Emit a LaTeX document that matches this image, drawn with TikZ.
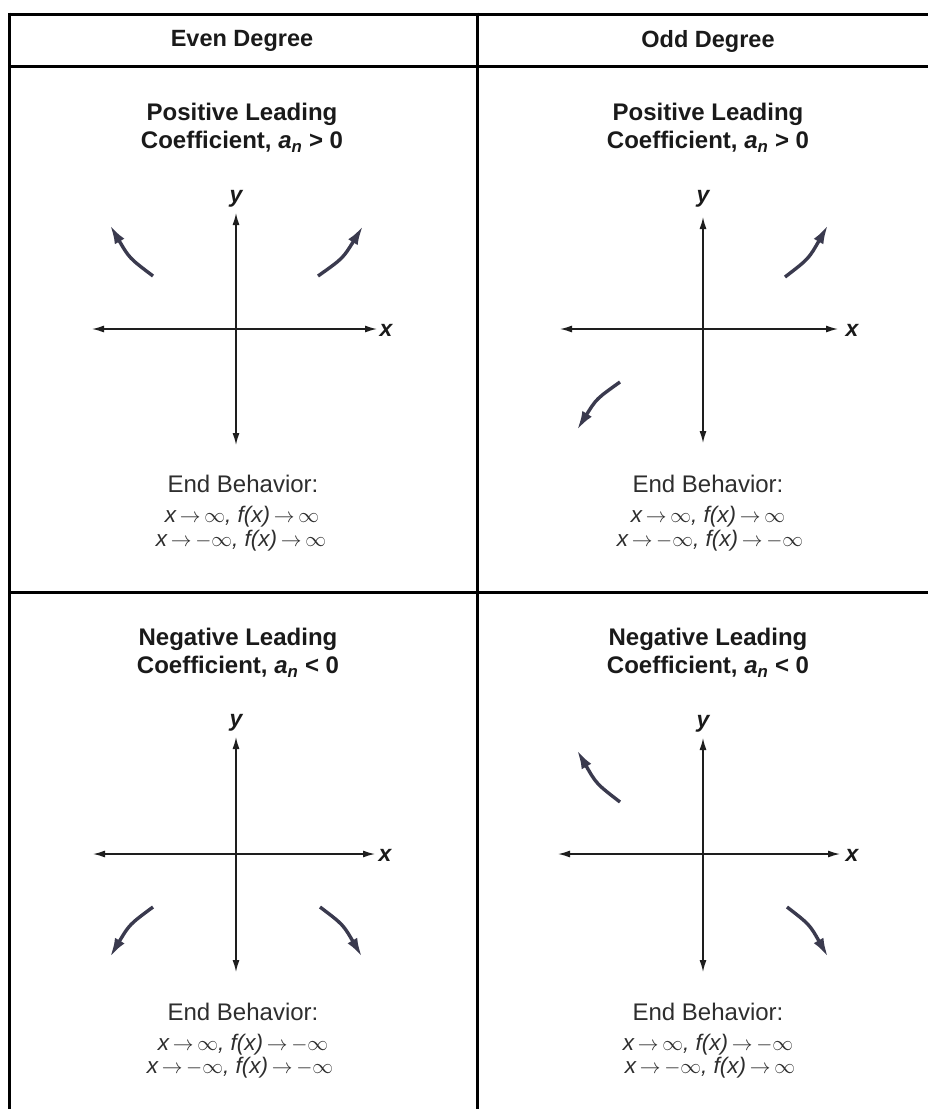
\documentclass[tikz,border=0pt]{standalone}
\usepackage{fontspec}
\setmainfont{Liberation Sans}
\usetikzlibrary{arrows.meta}
\definecolor{inkc}{HTML}{1A1A1A}
\definecolor{textc}{HTML}{2E2E2E}
\definecolor{curvec}{HTML}{3A3A4E}
\definecolor{axisc}{HTML}{1E1E1E}
\newcommand{\ra}{\,$\rightarrow$\,}
\newcommand{\inft}{$\infty$}
\newcommand{\ninft}{$-\infty$}
\tikzset{
  grid/.style={line width=3pt, draw=black},
  axis/.style={line width=1.4pt, draw=axisc, {Latex[length=12pt,width=7pt]}-{Latex[length=12pt,width=7pt]}},
  curve/.style={line width=3.4pt, draw=curvec, -{Latex[length=19pt,width=11pt]}},
  head/.style={font=\bfseries\fontsize{23.5}{26}\selectfont, text=inkc, inner sep=0pt},
  title/.style={font=\bfseries\fontsize{24}{28}\selectfont, text=inkc, inner sep=0pt, align=center},
  ebh/.style={font=\fontsize{24}{27}\selectfont, text=textc, inner sep=0pt},
  ebl/.style={font=\itshape\fontsize{22.5}{24}\selectfont, text=textc, inner sep=0pt},
  axlab/.style={font=\bfseries\itshape\fontsize{23}{24}\selectfont, text=inkc, inner sep=0pt}
}
\begin{document}
\begin{tikzpicture}[x=1pt,y=-1pt]
\useasboundingbox (0,0) rectangle (928,1109);
\fill[white] (0,0) rectangle (928,1109);
% grid
\draw[grid] (8,14) -- (928,14);
\draw[grid] (8,66) -- (928,66);
\draw[grid] (8,592) -- (928,592);
\draw[grid] (9.5,12.5) -- (9.5,1109);
\draw[grid] (477,12.5) -- (477,1109);
% headers
\node[head] (h1) at (242,41) {Even Degree};
\node[head] (h2) at (708,41) {Odd Degree};
% titles
\node[title] (t1a) at (242,114) {Positive Leading};
\node[title] (t1b) at (242,142) {Coefficient, {\itshape a\textsubscript{n}} > 0};
\node[title] (t2a) at (708,114) {Positive Leading};
\node[title] (t2b) at (708,142) {Coefficient, {\itshape a\textsubscript{n}} > 0};
\node[title] (t3a) at (238,639) {Negative Leading};
\node[title] (t3b) at (238,667) {Coefficient, {\itshape a\textsubscript{n}} < 0};
\node[title] (t4a) at (708,639) {Negative Leading};
\node[title] (t4b) at (708,667) {Coefficient, {\itshape a\textsubscript{n}} < 0};
% axes cell 1
\draw[axis] (92,329) -- (377,329);
\draw[axis] (236,213) -- (236,445);
\node[axlab] (x1) at (386,330) {x};
\node[axlab] (y1) at (236,199) {y};
% axes cell 2
\draw[axis] (560,329) -- (838,329);
\draw[axis] (703,217) -- (703,443);
\node[axlab] (x2) at (852,330) {x};
\node[axlab] (y2) at (703,199) {y};
% axes cell 3
\draw[axis] (93,854) -- (375,854);
\draw[axis] (236,737) -- (236,972);
\node[axlab] (x3) at (385,855) {x};
\node[axlab] (y3) at (236,723) {y};
% axes cell 4
\draw[axis] (558,854) -- (840,854);
\draw[axis] (703,738) -- (703,972);
\node[axlab] (x4) at (852,855) {x};
\node[axlab] (y4) at (703,724) {y};
% curves
\draw[curve] (153,276) .. controls (129.3,258.1) .. (110,225);
\draw[curve] (318,276) .. controls (342.8,258.5) .. (363,226);
\draw[curve] (785,277) .. controls (808.7,258.8) .. (828,225);
\draw[curve] (620,382) .. controls (596.4,398.8) .. (577,430);
\draw[curve] (153,907) .. controls (129.4,924.5) .. (110,957);
\draw[curve] (320,907) .. controls (343.1,924.5) .. (362,957);
\draw[curve] (620,802) .. controls (596.4,783.8) .. (577,750);
\draw[curve] (787,907) .. controls (809.6,924.5) .. (828,957);
% end behaviour
\node[ebh] (e1) at (243,484) {End Behavior:};
\node[ebl] (e1a) at (242,517) {x\ra\inft, f(x)\ra\inft};
\node[ebl] (e1b) at (241,541) {x\ra\ninft, f(x)\ra\inft};
\node[ebh] (e2) at (708,484) {End Behavior:};
\node[ebl] (e2a) at (708,517) {x\ra\inft, f(x)\ra\inft};
\node[ebl] (e2b) at (710,541) {x\ra\ninft, f(x)\ra\ninft};
\node[ebh] (e3) at (243,1012) {End Behavior:};
\node[ebl] (e3a) at (243,1045) {x\ra\inft, f(x)\ra\ninft};
\node[ebl] (e3b) at (240,1068) {x\ra\ninft, f(x)\ra\ninft};
\node[ebh] (e4) at (708,1012) {End Behavior:};
\node[ebl] (e4a) at (708,1045) {x\ra\inft, f(x)\ra\ninft};
\node[ebl] (e4b) at (710,1068) {x\ra\ninft, f(x)\ra\inft};
\end{tikzpicture}
\end{document}
